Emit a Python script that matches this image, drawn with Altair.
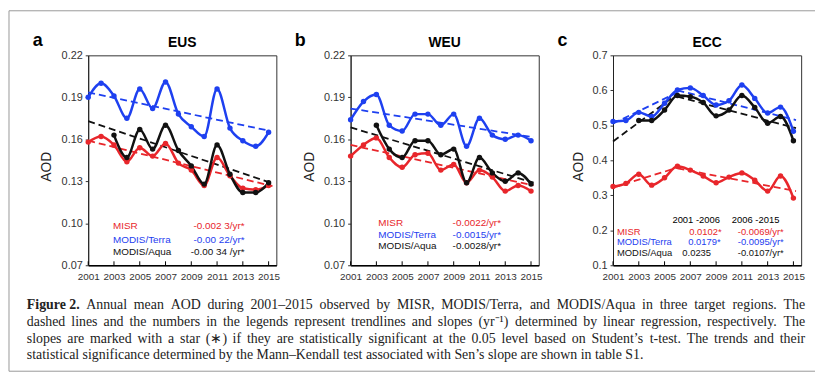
import altair as alt
import pandas as pd

# ---------------- data ----------------
years = list(range(2001, 2016))
aqua_years = list(range(2003, 2016))
x_tick_years = [2001, 2003, 2005, 2007, 2009, 2011, 2013, 2015]
series_names = ["MISR", "MODIS/Terra", "MODIS/Aqua"]

eus_misr = [0.158, 0.162, 0.156, 0.144, 0.154, 0.148, 0.157, 0.143, 0.138, 0.127, 0.147, 0.134, 0.125, 0.124, 0.127]
eus_terra = [0.190, 0.200, 0.191, 0.175, 0.196, 0.182, 0.201, 0.178, 0.169, 0.162, 0.196, 0.168, 0.159, 0.155, 0.165]
eus_aqua = [0.163, 0.147, 0.167, 0.153, 0.170, 0.152, 0.141, 0.128, 0.156, 0.135, 0.122, 0.122, 0.129]

weu_misr = [0.148, 0.156, 0.161, 0.147, 0.140, 0.149, 0.150, 0.138, 0.142, 0.129, 0.138, 0.133, 0.123, 0.127, 0.123]
weu_terra = [0.174, 0.187, 0.192, 0.170, 0.166, 0.178, 0.178, 0.170, 0.178, 0.155, 0.175, 0.163, 0.160, 0.163, 0.159]
weu_aqua = [0.170, 0.153, 0.147, 0.159, 0.159, 0.149, 0.153, 0.129, 0.147, 0.136, 0.130, 0.136, 0.128]

ecc_misr = [0.325, 0.334, 0.360, 0.329, 0.350, 0.383, 0.372, 0.355, 0.336, 0.352, 0.364, 0.343, 0.312, 0.355, 0.292]
ecc_terra = [0.511, 0.514, 0.537, 0.525, 0.563, 0.601, 0.607, 0.585, 0.558, 0.570, 0.615, 0.577, 0.535, 0.552, 0.483]
ecc_aqua = [0.514, 0.514, 0.544, 0.585, 0.582, 0.565, 0.527, 0.544, 0.585, 0.551, 0.506, 0.525, 0.456]

# trend lines: series, start year, start value, end year, end value
eus_trend_series = ["MISR", "MODIS/Terra", "MODIS/Aqua"]
eus_trend_x0 = [2001, 2001, 2001]
eus_trend_y0 = [0.159, 0.1935, 0.173]
eus_trend_x1 = [2015.3, 2015.1, 2015.3]
eus_trend_y1 = [0.1265, 0.166, 0.1285]

weu_trend_series = ["MISR", "MODIS/Terra", "MODIS/Aqua"]
weu_trend_x0 = [2001, 2001, 2001]
weu_trend_y0 = [0.156, 0.182, 0.1685]
weu_trend_x1 = [2015.2, 2015.2, 2015.2]
weu_trend_y1 = [0.127, 0.1615, 0.129]

ecc_trend_series = ["MISR", "MISR", "MODIS/Terra", "MODIS/Terra", "MODIS/Aqua", "MODIS/Aqua"]
ecc_trend_x0 = [2001, 2006, 2001, 2006, 2001, 2006]
ecc_trend_y0 = [0.322, 0.377, 0.505, 0.600, 0.454, 0.582]
ecc_trend_x1 = [2006, 2015.2, 2006, 2015.2, 2006, 2015.2]
ecc_trend_y1 = [0.379, 0.312, 0.594, 0.515, 0.590, 0.492]

eus_slopes = ["-0.002 3/yr*", "-0.00 22/yr*", "-0.00 34 /yr*"]
weu_slopes = ["-0.0022/yr*", "-0.0015/yr*", "-0.0028/yr*"]
ecc_slopes_1 = ["0.0102*", "0.0179*", "0.0235"]
ecc_slopes_2 = ["-0.0069/yr*", "-0.0095/yr*", "-0.0107/yr*"]
ecc_periods = ["2001 -2006", "2006 -2015"]

caption_bold = "Figure 2."
caption_lines = [
    "Annual mean AOD during 2001\u20132015 observed by MISR, MODIS/Terra, and MODIS/Aqua in three target regions. The",
    "dashed lines and the numbers in the legends represent trendlines and slopes (yr\u207b\u00b9) determined by linear regression, respectively. The",
    "slopes are marked with a star (\u2217) if they are statistically significant at the 0.05 level based on Student\u2019s t-test. The trends and their",
    "statistical significance determined by the Mann\u2013Kendall test associated with Sen\u2019s slope are shown in table S1.",
]

# ---------------- style ----------------
RED = "#e8262b"
BLUE = "#1e40f0"
BLACK = "#111111"
FONT = "Liberation Sans"
SERIF = "Liberation Serif"
W, H = 190, 212
color_scale = alt.Scale(domain=series_names, range=[RED, BLUE, BLACK])
legend_colors = [RED, BLUE, BLACK]

# Times-compatible advance widths (per 1000 em) used to justify caption lines
_TW = {" ": 250, "a": 444, "b": 500, "c": 444, "d": 500, "e": 444, "f": 333, "g": 500, "h": 500,
       "i": 278, "j": 278, "k": 500, "l": 278, "m": 778, "n": 500, "o": 500, "p": 500, "q": 500,
       "r": 333, "s": 389, "t": 278, "u": 500, "v": 500, "w": 722, "x": 500, "y": 500, "z": 444,
       "A": 722, "B": 667, "C": 667, "D": 722, "E": 611, "F": 556, "G": 722, "H": 722, "I": 333,
       "J": 389, "K": 722, "L": 611, "M": 889, "N": 722, "O": 722, "P": 556, "Q": 722, "R": 667,
       "S": 556, "T": 611, "U": 722, "V": 722, "W": 944, "X": 722, "Y": 722, "Z": 611,
       ".": 250, ",": 250, "-": 333, "\u2013": 500, "/": 278, "(": 333, ")": 333, "\u2019": 333,
       "\u207b": 400, "\u00b9": 300, "\u2217": 840}


def text_width(s, size):
    return sum(_TW.get(ch, 500) for ch in s) * size / 1000.0


def obs_df(misr, terra, aqua):
    rows = []
    for y, v in zip(years, misr):
        rows.append(("MISR", y, v))
    for y, v in zip(years, terra):
        rows.append(("MODIS/Terra", y, v))
    for y, v in zip(aqua_years, aqua):
        rows.append(("MODIS/Aqua", y, v))
    return pd.DataFrame(rows, columns=["series", "year", "aod"])


def trend_df(series, x0, y0, x1, y1):
    rows = []
    for i, s in enumerate(series):
        rows.append((s, i, x0[i], y0[i]))
        rows.append((s, i, x1[i], y1[i]))
    return pd.DataFrame(rows, columns=["series", "seg", "year", "aod"])


def txt(text, x, y, color="#000", size=10, align="left", weight="normal", font=FONT):
    return alt.Chart(pd.DataFrame({"t": [text]})).mark_text(
        align=align, baseline="alphabetic", font=font, fontSize=size,
        fontWeight=weight, color=color
    ).encode(text="t:N", x=alt.value(x), y=alt.value(y))


def justified(line, x0, x1, y, size):
    """one text layer with each word placed so that the line fills x0..x1"""
    words = line.split(" ")
    widths = [text_width(w, size) for w in words]
    gap = (x1 - x0 - sum(widths)) / (len(words) - 1)
    xs, cur = [], x0
    for w in widths:
        xs.append(cur)
        cur += w + gap
    df = pd.DataFrame({"t": words, "px": xs})
    return alt.Chart(df).mark_text(
        align="left", baseline="alphabetic", font=SERIF, fontSize=size, color="#222"
    ).encode(text="t:N", x=alt.X("px:Q", scale=None), y=alt.value(y))


def panel(letter, title, obs, trend, ydomain, yticks, yfmt, extra_layers, title_x):
    xs = alt.Scale(domain=[2001, 2015.6], nice=False, zero=False)
    ys = alt.Scale(domain=ydomain, nice=False, zero=False)
    xaxis = alt.Axis(values=x_tick_years, format="d", title=None, grid=False, ticks=False,
                     labelPadding=6, labelFontSize=10, labelColor="#333", labelFont=FONT,
                     domainColor="#000", domainWidth=1.5, labelOverlap=False, labelFlush=False)
    yaxis = alt.Axis(values=yticks, format=yfmt, title="AOD", grid=False, tickSize=3,
                     tickColor="#333", labelFontSize=11, labelColor="#333", labelFont=FONT,
                     labelPadding=3, domainColor="#222", titleFont=FONT, titleFontSize=14,
                     titleFontWeight="normal", titleColor="#222",
                     titleX=title_x, titleY=112)
    X = alt.X("year:Q", scale=xs, axis=xaxis)
    Y = alt.Y("aod:Q", scale=ys, axis=yaxis)
    C = alt.Color("series:N", scale=color_scale, legend=None)

    trends = alt.Chart(trend).mark_line(strokeDash=[7, 4], strokeWidth=1.8).encode(
        x=X, y=Y, color=C, detail="seg:N")
    lines = alt.Chart(obs).mark_line(strokeWidth=2.5, interpolate="monotone").encode(
        x=X, y=Y, color=C)
    points = alt.Chart(obs).mark_circle(size=30, opacity=1).encode(x=X, y=Y, color=C)
    ticks = alt.Chart(pd.DataFrame({"year": x_tick_years})).mark_rule(
        color="#000", strokeWidth=1).encode(x=X, y=alt.value(H), y2=alt.value(H - 4))
    letter_layer = txt(letter, -51, -9, size=18, align="center", weight="bold")
    title_layer = txt(title, W / 2, -8, size=14, align="center", weight="bold")

    return alt.layer(trends, lines, points, ticks, letter_layer, title_layer,
                     *extra_layers).properties(width=W, height=H)


# legends / annotations
a_extra = []
for i, (name, slope) in enumerate(zip(series_names, eus_slopes)):
    yb = [175.5, 189.5, 201.5][i]
    a_extra.append(txt(name, 25, yb, color=legend_colors[i]))
    a_extra.append(txt(slope, 158, yb, color=legend_colors[i], align="right"))

# outer frame + caption (drawn in panel a coordinates)
frame_df = pd.DataFrame({"k": [0]})
a_extra.append(alt.Chart(frame_df).mark_rule(color="#999", strokeWidth=1).encode(
    x=alt.value(-80), x2=alt.value(734), y=alt.value(-45)))
a_extra.append(alt.Chart(frame_df).mark_rule(color="#999", strokeWidth=1).encode(
    x=alt.value(-80), x2=alt.value(734), y=alt.value(319)))
a_extra.append(alt.Chart(frame_df).mark_rule(color="#999", strokeWidth=1).encode(
    x=alt.value(-80), y=alt.value(-45), y2=alt.value(319)))

CAP = 14
cap_y = [256.5, 273.5, 290.5, 307]
cap_left, cap_right = -62, 724
a_extra.append(txt(caption_bold, cap_left, cap_y[0], color="#222", size=CAP, weight="bold", font=SERIF))
a_extra.append(justified(caption_lines[0], -2, cap_right, cap_y[0], CAP))
a_extra.append(justified(caption_lines[1], cap_left, cap_right, cap_y[1], CAP))
a_extra.append(justified(caption_lines[2], cap_left, cap_right, cap_y[2], CAP))
a_extra.append(txt(caption_lines[3], cap_left, cap_y[3], color="#222", size=CAP, font=SERIF))

b_extra = []
for i, (name, slope) in enumerate(zip(series_names, weu_slopes)):
    yb = [172.5, 184, 195.5][i]
    b_extra.append(txt(name, 28, yb, color=legend_colors[i]))
    b_extra.append(txt(slope, 103, yb, color=legend_colors[i]))

c_extra = [txt(ecc_periods[0], 60, 169.5, size=9.5), txt(ecc_periods[1], 120, 169.5, size=9.5)]
c1_x = [77, 76, 70]
for i, name in enumerate(series_names):
    yb = [181.5, 192, 202.5][i]
    c_extra.append(txt(name, 4, yb, color=legend_colors[i], size=9.5))
    c_extra.append(txt(ecc_slopes_1[i], c1_x[i], yb, color=legend_colors[i], size=9.5))
    c_extra.append(txt(ecc_slopes_2[i], 126, yb, color=legend_colors[i], size=9.5))

pa = panel("a", "EUS", obs_df(eus_misr, eus_terra, eus_aqua),
           trend_df(eus_trend_series, eus_trend_x0, eus_trend_y0, eus_trend_x1, eus_trend_y1),
           [0.07, 0.22], [0.07, 0.10, 0.13, 0.16, 0.19, 0.22], ".2f", a_extra, -35)
pb = panel("b", "WEU", obs_df(weu_misr, weu_terra, weu_aqua),
           trend_df(weu_trend_series, weu_trend_x0, weu_trend_y0, weu_trend_x1, weu_trend_y1),
           [0.07, 0.22], [0.07, 0.10, 0.13, 0.16, 0.19, 0.22], ".2f", b_extra, -34)
pc = panel("c", "ECC", obs_df(ecc_misr, ecc_terra, ecc_aqua),
           trend_df(ecc_trend_series, ecc_trend_x0, ecc_trend_y0, ecc_trend_x1, ecc_trend_y1),
           [0.1, 0.7], [0.1, 0.2, 0.3, 0.4, 0.5, 0.6, 0.7], ".1f", c_extra, -28)

chart = alt.hconcat(pa, pb, pc, spacing=75, bounds="flush").properties(
    padding=0, background="white"
).configure_view(stroke="#333", strokeWidth=1)

chart.save("out.html", embed_options={"renderer": "svg", "actions": False})
